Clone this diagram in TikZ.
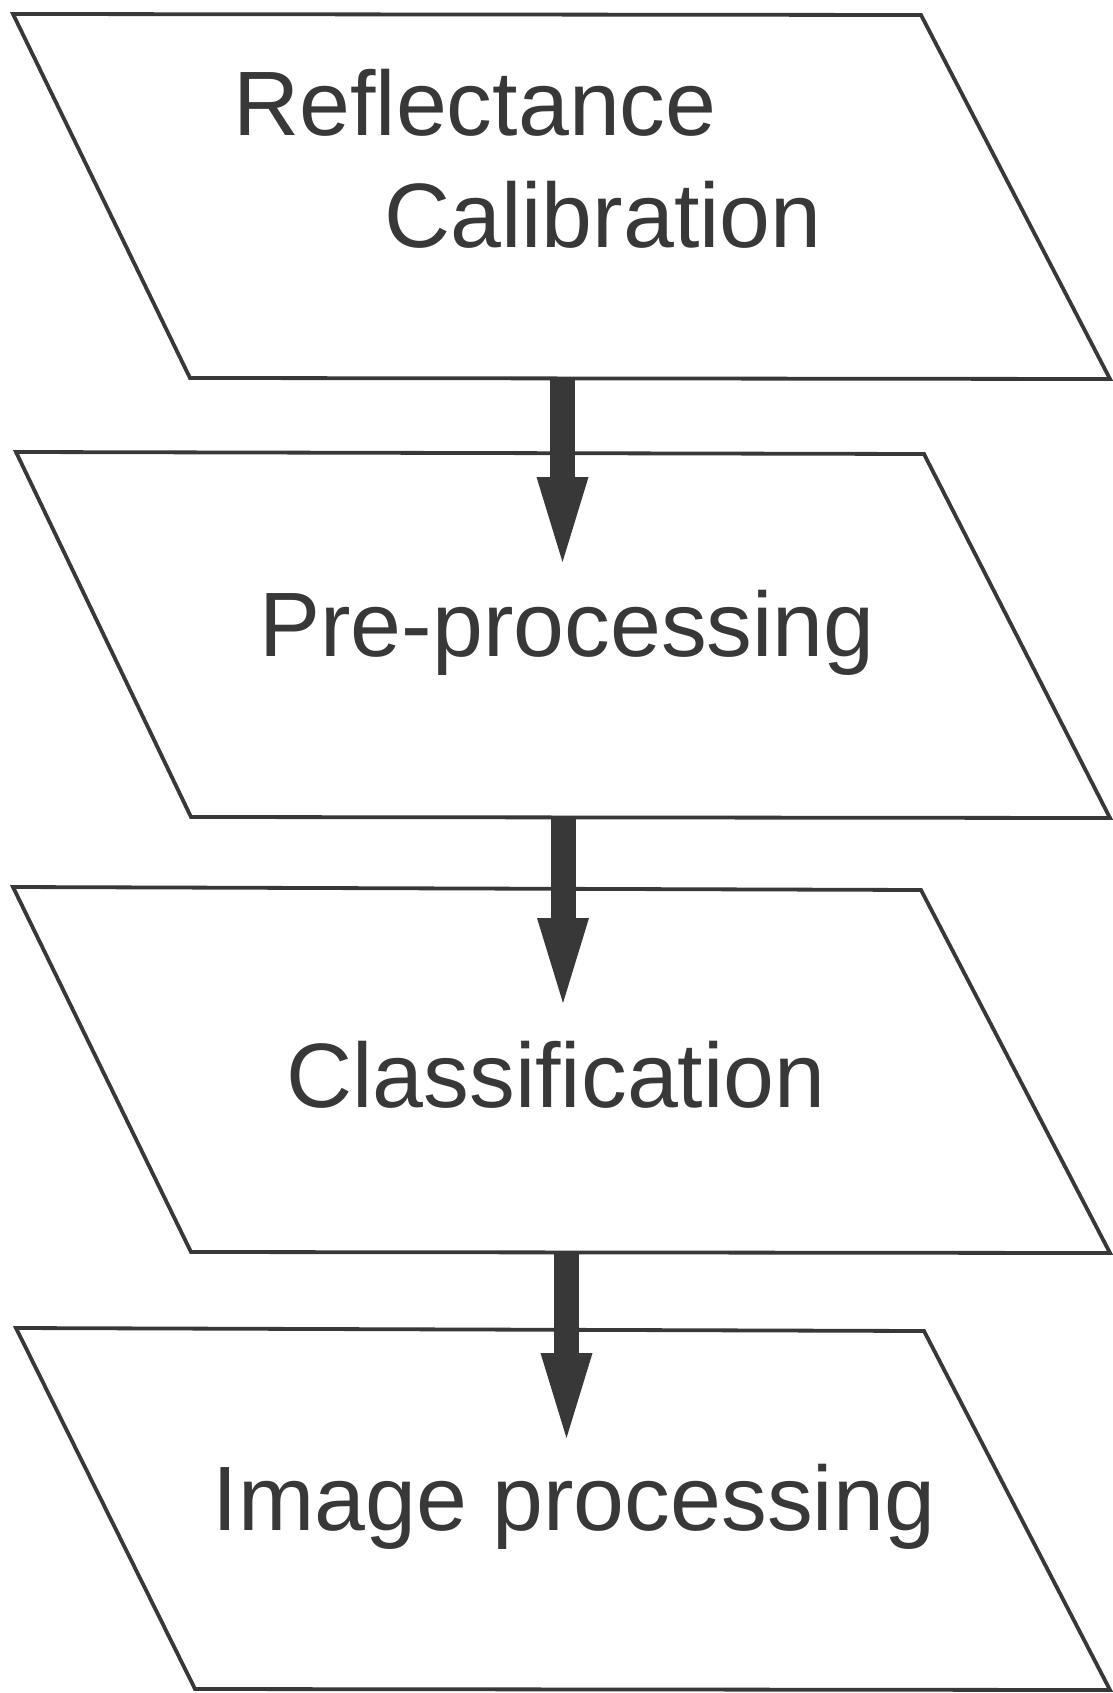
\documentclass[tikz,border=0pt]{standalone}
\usepackage{fontspec}
\setmainfont{Liberation Sans}
\usetikzlibrary{arrows.meta}
\definecolor{ink}{HTML}{383838}
\begin{document}
\begin{tikzpicture}[x=1pt,y=-1pt,
  boxline/.style={draw=ink, line width=3.8pt, line join=miter},
  lbl/.style={anchor=base, inner sep=0pt, text=ink, font=\fontsize{91.5}{110}\selectfont},
  flow/.style={draw=ink, fill=ink, line width=25pt,
    -{Triangle[width=52pt,length=85pt,line width=0pt]}}]
\useasboundingbox[fill=white] (0,0) rectangle (1112,1693);

% box 1
\coordinate (b1tl) at (13,14);  \coordinate (b1tr) at (921,15);
\coordinate (b1br) at (1110,379); \coordinate (b1bl) at (190,378);
% box 2
\coordinate (b2tl) at (16,452);  \coordinate (b2tr) at (924,454);
\coordinate (b2br) at (1110,818); \coordinate (b2bl) at (191,817);
% box 3
\coordinate (b3tl) at (13,887);  \coordinate (b3tr) at (921,890);
\coordinate (b3br) at (1110,1253); \coordinate (b3bl) at (191,1252);
% box 4
\coordinate (b4tl) at (16,1328);  \coordinate (b4tr) at (924,1331);
\coordinate (b4br) at (1110,1690); \coordinate (b4bl) at (195,1689);

\draw[boxline] (b1tl) -- (b1tr) -- (b1br) -- (b1bl) -- cycle;
\draw[boxline] (b2tl) -- (b2tr) -- (b2br) -- (b2bl) -- cycle;
\draw[boxline] (b3tl) -- (b3tr) -- (b3br) -- (b3bl) -- cycle;
\draw[boxline] (b4tl) -- (b4tr) -- (b4br) -- (b4bl) -- cycle;

\node[lbl] (t1a) at (475,136) {Reflectance};
\node[lbl] (t1b) at (603,248) {Calibration};
\node[lbl] (t2) at (567,656) {Pre-processing};
\node[lbl] (t3) at (556,1107) {Classification};
\node[lbl] (t4) at (574,1530) {Image processing};

% connectors
\coordinate (a1s) at (562.5,378);  \coordinate (a1e) at (562.5,562);
\coordinate (a2s) at (563,818);    \coordinate (a2e) at (563,1003);
\coordinate (a3s) at (566.5,1253); \coordinate (a3e) at (566.5,1438);
\draw[flow] (a1s) -- (a1e);
\draw[flow] (a2s) -- (a2e);
\draw[flow] (a3s) -- (a3e);
\end{tikzpicture}
\end{document}
